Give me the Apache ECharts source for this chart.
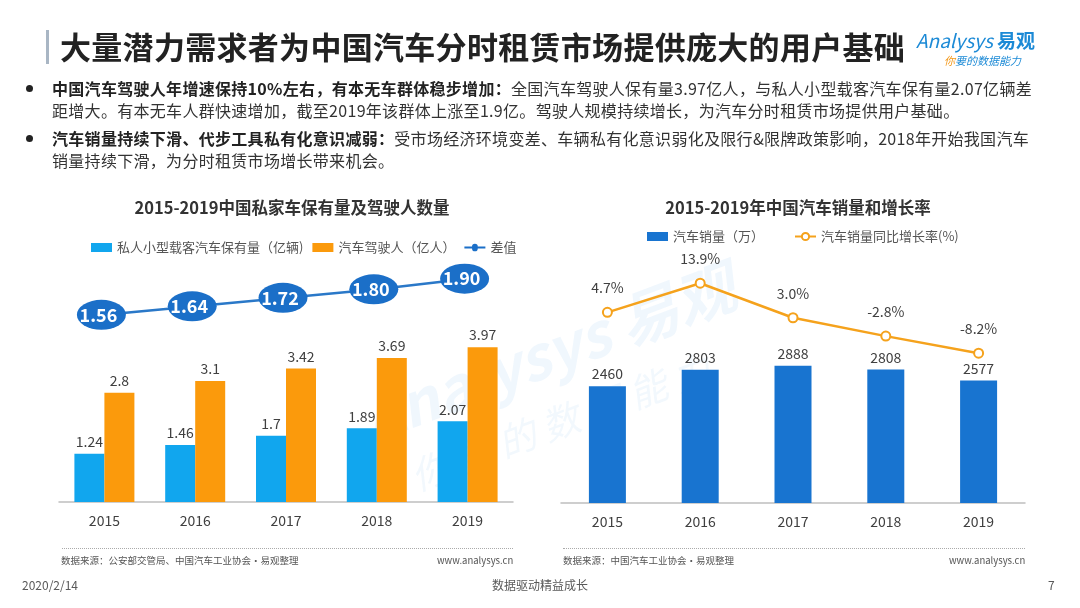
<!DOCTYPE html>
<html>
<head>
<meta charset="utf-8">
<script src="https://cdn.jsdelivr.net/npm/echarts@6/dist/echarts.min.js"></script>
<style>
	html, body { margin: 0; padding: 0; background: #fff; }
	body { width: 1080px; height: 608px; position: relative; overflow: hidden;
		font-family: "Microsoft YaHei", "Noto Sans CJK SC", sans-serif; color: #333; }
	#chart { position: absolute; left: 0; top: 0; width: 1080px; height: 608px; }
	.abs { position: absolute; white-space: nowrap; }
	.headbar { left: 46px; top: 30px; width: 3px; height: 34px; background: #a9b6c4; }
	.head { left: 60px; top: 25px; font-size: 31px; font-weight: bold; color: #222; line-height: 42px; letter-spacing: 0.3px; }
	.logo { left: 916px; top: 26px; font-size: 19px; color: #1c8ad6; font-style: italic; }
	.logo b { font-style: normal; }
	.slogan { left: 944px; top: 52px; font-size: 11px; color: #1c8ad6; font-style: italic; }
	.slogan span { color: #f39a1e; }
	.bullets { left: 22px; top: 77px; font-size: 16px; line-height: 22px; color: #333; letter-spacing: 0.3px; }
	.bullets p { margin: 0 0 6px 0; position: relative; padding-left: 30px; }
	.bullets p::before { content: ""; position: absolute; left: 4px; top: 8px; width: 7px; height: 7px;
		border-radius: 50%; background: #222; }
	.bullets b { color: #222; }
	.dots { height: 0; border-top: 1px dotted #aaa; top: 548px; }
	.src { top: 553px; font-size: 9.5px; color: #555; }
	.foot { top: 576px; font-size: 12px; color: #595959; }
</style>
</head>
<body>
<div id="chart"></div>
<div class="abs headbar"></div>
<div class="abs head">大量潜力需求者为中国汽车分时租赁市场提供庞大的用户基础</div>
<div class="abs logo">Analysys <b>易观</b></div>
<div class="abs slogan"><span>你</span>要的数据能力</div>
<div class="abs bullets">
	<p><b>中国汽车驾驶人年增速保持10%左右，有本无车群体稳步增加：</b>全国汽车驾驶人保有量3.97亿人，与私人小型载客汽车保有量2.07亿辆差<br>距增大。有本无车人群快速增加，截至2019年该群体上涨至1.9亿。驾驶人规模持续增长，为汽车分时租赁市场提供用户基础。</p>
	<p><b>汽车销量持续下滑、代步工具私有化意识减弱：</b>受市场经济环境变差、车辆私有化意识弱化及限行&amp;限牌政策影响，2018年开始我国汽车<br>销量持续下滑，为分时租赁市场增长带来机会。</p>
</div>
<div class="abs dots" style="left:62px;width:451px"></div>
<div class="abs dots" style="left:563px;width:462px"></div>
<div class="abs src" style="left:61px">数据来源：公安部交管局、中国汽车工业协会·易观整理</div>
<div class="abs src" style="left:437px;width:76px;text-align:right">www.analysys.cn</div>
<div class="abs src" style="left:563px">数据来源：中国汽车工业协会·易观整理</div>
<div class="abs src" style="left:949px;width:76px;text-align:right">www.analysys.cn</div>
<div class="abs foot" style="left:22px">2020/2/14</div>
<div class="abs foot" style="left:0;width:1080px;text-align:center">数据驱动精益成长</div>
<div class="abs foot" style="left:1048px">7</div>
<script>
const years = ["2015", "2016", "2017", "2018", "2019"]
// 左图：亿
const carOwnership = [1.24, 1.46, 1.7, 1.89, 2.07]
const drivers = [2.8, 3.1, 3.42, 3.69, 3.97]
const gapValues = [1.56, 1.64, 1.72, 1.8, 1.9]
// 右图
const sales = [2460, 2803, 2888, 2808, 2577]
const salesGrowth = [4.7, 13.9, 3.0, -2.8, -8.2]

const font = '"Microsoft YaHei", "Noto Sans CJK SC", sans-serif'
const labelStyle = { show: true, position: "top", color: "#404040", fontSize: 14, fontFamily: font }

let chart = echarts.init(document.getElementById("chart"))
let xAxisBase = {
	type: "category",
	data: years,
	axisTick: { show: false },
	axisLine: { lineStyle: { color: "#bfbfbf", width: 1.5 } },
	axisLabel: { color: "#404040", fontSize: 14, margin: 12, fontFamily: font },
}
let option = {
	animation: false,
	textStyle: { fontFamily: font },
	title: [
		{
			text: "2015-2019中国私家车保有量及驾驶人数量",
			left: 287, top: 194, textAlign: "center",
			textStyle: { fontSize: 16.5, fontWeight: "bold", color: "#333" },
		},
		{
			text: "2015-2019年中国汽车销量和增长率",
			left: 793, top: 194, textAlign: "center",
			textStyle: { fontSize: 16.5, fontWeight: "bold", color: "#333" },
		},
	],
	legend: [
		{
			left: 86, top: 236,
			itemWidth: 21, itemHeight: 9, itemGap: 9,
			textStyle: { fontSize: 13, color: "#555" },
			data: [
				{ name: "私人小型载客汽车保有量（亿辆)", icon: "rect" },
				{ name: "汽车驾驶人（亿人）", icon: "rect" },
				{ name: "差值", icon: "path://M0,4H8A3,3 0 1,1 14,4H22V6H14A3,3 0 1,1 8,6H0Z" },
			],
		},
		{
			left: 642, top: 225,
			itemWidth: 21, itemHeight: 9, itemGap: 30,
			textStyle: { fontSize: 13, color: "#555" },
			data: [
				{ name: "汽车销量（万）", icon: "rect" },
				{ name: "汽车销量同比增长率(%)" },
			],
		},
	],
	grid: [
		{ left: 59, right: 567, top: 268, bottom: 106 },
		{ left: 561, right: 55, top: 218, bottom: 105 },
	],
	xAxis: [
		Object.assign({ gridIndex: 0 }, xAxisBase),
		Object.assign({ gridIndex: 1 }, xAxisBase),
	],
	yAxis: [
		{ gridIndex: 0, type: "value", min: 0, max: 6, show: false },
		{ gridIndex: 0, type: "value", min: -0.2, max: 2.0, show: false },
		{ gridIndex: 1, type: "value", min: 0, max: 6000, show: false },
		{ gridIndex: 1, type: "value", min: -55.5, max: 34.5, show: false },
	],
	series: [
		{
			name: "私人小型载客汽车保有量（亿辆)",
			type: "bar", xAxisIndex: 0, yAxisIndex: 0,
			data: carOwnership, barWidth: 30, barGap: "0%",
			itemStyle: { color: "#11a6ee" },
			label: labelStyle,
		},
		{
			name: "汽车驾驶人（亿人）",
			type: "bar", xAxisIndex: 0, yAxisIndex: 0,
			data: drivers, barWidth: 30, barGap: "0%",
			itemStyle: { color: "#fb9a0c" },
			label: labelStyle,
		},
		{
			name: "差值",
			type: "line", xAxisIndex: 0, yAxisIndex: 1,
			data: gapValues, clip: false, z: 5,
			symbol: "circle", symbolSize: [49, 30], symbolOffset: [-3, 0],
			lineStyle: { color: "#2a78c8", width: 2.5 },
			itemStyle: { color: "#1b6fc8" },
			label: {
				show: true, position: "inside", offset: [-3, 0],
				color: "#fff", fontSize: 18, fontWeight: "bold",
				formatter: (p) => p.value.toFixed(2),
			},
		},
		{
			name: "汽车销量（万）",
			type: "bar", xAxisIndex: 1, yAxisIndex: 2,
			data: sales, barWidth: 37,
			itemStyle: { color: "#1874d0" },
			label: labelStyle,
		},
		{
			name: "汽车销量同比增长率(%)",
			type: "line", xAxisIndex: 1, yAxisIndex: 3,
			data: salesGrowth, clip: false, z: 5,
			symbol: "emptyCircle", symbolSize: 9,
			lineStyle: { color: "#f5a21c", width: 2.5 },
			itemStyle: { color: "#f5a21c", borderWidth: 2 },
			label: {
				show: true, position: "top", distance: 12,
				color: "#404040", fontSize: 14,
				formatter: (p) => p.value.toFixed(1) + "%",
			},
		},
	],
	// 水印
	graphic: [
		{
			type: "group", x: 540, y: 420, rotation: 0.36, silent: true, z: -10,
			children: [
				{
					type: "text", x: -165, y: -90,
					style: { text: "Analysys 易观", fontSize: 60, fontStyle: "italic", fontWeight: "bold",
						fill: "rgba(40,140,220,0.07)", fontFamily: font },
				},
				{
					type: "text", x: -140, y: -10,
					style: { text: "你 要 的 数 据 能 力", fontSize: 38, fontStyle: "italic",
						fill: "rgba(40,140,220,0.06)", fontFamily: font },
				},
			],
		},
	],
}
chart.setOption(option)
</script>
</body>
</html>
